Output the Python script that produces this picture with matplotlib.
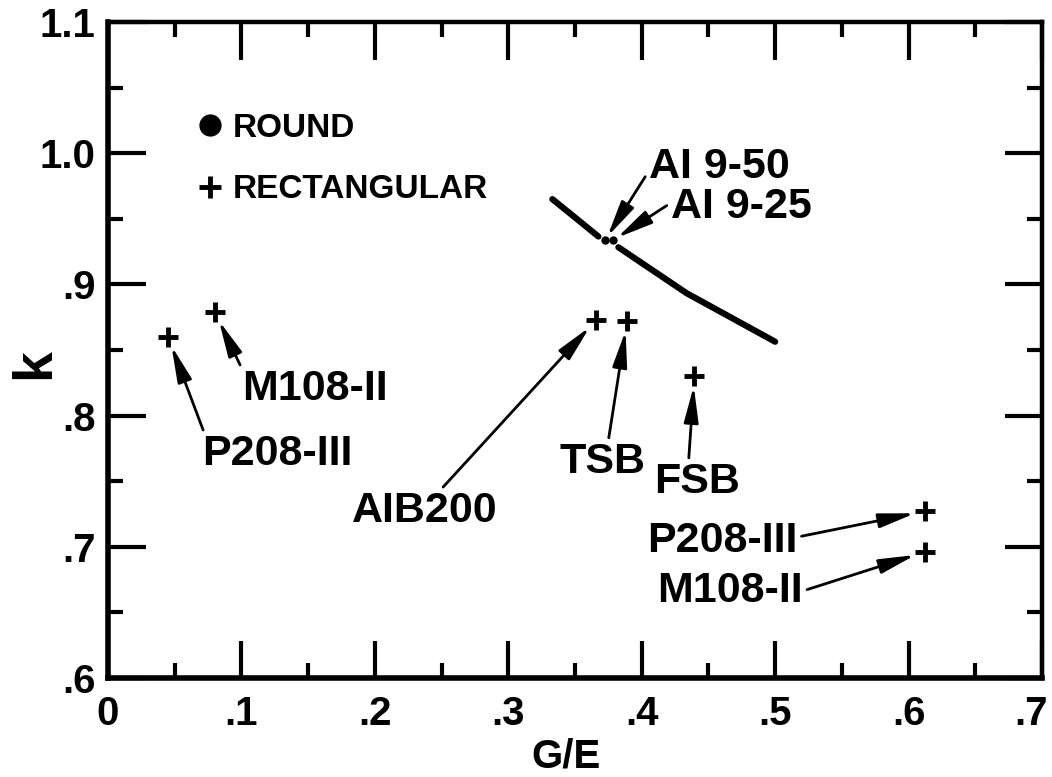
import matplotlib
matplotlib.use("Agg")
import matplotlib.pyplot as plt
import matplotlib.transforms as mtransforms
from matplotlib.lines import Line2D
from matplotlib.ticker import MultipleLocator

# ==========================================================
# DATA
# ==========================================================

# k vs G/E curve for round specimens, drawn in two pieces
curve_upper_x = [0.333, 0.350, 0.3675]
curve_upper_y = [0.965, 0.951, 0.9365]
curve_lower_x = [0.3825, 0.4063, 0.4338, 0.4663, 0.500]
curve_lower_y = [0.9283, 0.912, 0.8932, 0.8751, 0.8563]

# Round specimens sitting in the gap of the curve
round_names = ["AI 9-50", "AI 9-25"]
round_x = [0.3726, 0.3788]
round_y = [0.9338, 0.9338]
round_label_x = [0.458, 0.4745]
round_label_y = [0.981, 0.9506]
round_relpos = [(0.0, 0.4), (0.0, 0.6)]

# Rectangular specimens
rect_names = ["P208-III", "M108-II", "AIB200", "TSB", "FSB",
              "P208-III", "M108-II"]
rect_x = [0.045, 0.080, 0.366, 0.389, 0.4395, 0.612, 0.612]
rect_y = [0.860, 0.879, 0.873, 0.872, 0.830, 0.727, 0.696]
rect_label_x = [0.1265, 0.155, 0.2376, 0.3703, 0.4415, 0.4603, 0.4663]
rect_label_y = [0.7623, 0.8119, 0.719, 0.7563, 0.741, 0.696, 0.658]
rect_relpos = [(0.02, 1.0), (0.0, 1.0), (0.6, 1.0), (0.57, 1.0),
               (0.4, 1.0), (1.0, 0.6), (1.0, 0.5)]

# Axis ticks
x_ticks = [0.0, 0.1, 0.2, 0.3, 0.4, 0.5, 0.6, 0.7]
x_tick_labels = ["0", ".1", ".2", ".3", ".4", ".5", ".6", ".7"]
y_ticks = [0.6, 0.7, 0.8, 0.9, 1.0, 1.1]
y_tick_labels = [".6", ".7", ".8", ".9", "1.0", "1.1"]

# ==========================================================
# STYLE
# ==========================================================

plt.rcParams["font.family"] = ["Liberation Sans", "DejaVu Sans"]
plt.rcParams["font.weight"] = "bold"

fig = plt.figure(figsize=(10.52, 7.77), dpi=100)
ax = fig.add_axes([0.1027, 0.1274, 0.8878, 0.8443])

# ==========================================================
# MARKS
# ==========================================================

ax.plot(curve_upper_x, curve_upper_y, color="black", lw=4.5,
        solid_capstyle="round")
ax.plot(curve_lower_x, curve_lower_y, color="black", lw=4.5,
        solid_capstyle="round")

ax.plot(round_x, round_y, "o", color="black", markersize=5)
ax.plot(rect_x, rect_y, "+", color="black", markersize=15, mew=3.5)

arrow = dict(arrowstyle="-|>,head_length=1.0,head_width=0.2",
             color="black", lw=2, shrinkA=1, shrinkB=7, mutation_scale=22)

for name, x, y, tx, ty, rp in zip(rect_names, rect_x, rect_y,
                                  rect_label_x, rect_label_y, rect_relpos):
    ax.annotate(name, xy=(x, y), xytext=(tx, ty), ha="center",
                va="baseline", fontsize=31, fontweight="bold",
                arrowprops=dict(arrow, relpos=rp))

for name, x, y, tx, ty, rp in zip(round_names, round_x, round_y,
                                  round_label_x, round_label_y, round_relpos):
    ax.annotate(name, xy=(x, y), xytext=(tx, ty), ha="center",
                va="baseline", fontsize=31, fontweight="bold",
                arrowprops=dict(arrow, relpos=rp, shrinkB=3))

# legend
handles = [
    Line2D([], [], marker="o", ls="none", color="black", markersize=15),
    Line2D([], [], marker="+", ls="none", color="black", markersize=16,
           mew=3.5),
]
ax.legend(handles, ["ROUND", "RECTANGULAR"], loc="upper left",
          bbox_to_anchor=(0.096, 0.862), frameon=False, borderpad=0,
          borderaxespad=0, handlelength=0.75, handletextpad=0.3,
          labelspacing=0.92, prop={"size": 24, "weight": "bold"})

# ==========================================================
# AXES
# ==========================================================

ax.set_xlim(0, 0.7)
ax.set_ylim(0.6, 1.1)
ax.set_xticks(x_ticks)
ax.set_xticklabels(x_tick_labels, fontsize=29, fontweight="bold")
ax.set_yticks(y_ticks)
ax.set_yticklabels(y_tick_labels, fontsize=29, fontweight="bold")
ax.xaxis.set_minor_locator(MultipleLocator(0.05))
ax.yaxis.set_minor_locator(MultipleLocator(0.05))

ax.tick_params(which="both", direction="in", top=True, right=True,
               width=3, color="black")
ax.tick_params(which="major", length=27)
ax.tick_params(which="minor", length=11)
ax.tick_params(axis="x", which="major", pad=12)
ax.tick_params(axis="y", which="major", pad=9)

# pull the last x label in a little so it stays on the page
last = ax.get_xticklabels()[-1]
last.set_transform(last.get_transform()
                   + mtransforms.ScaledTranslation(-8 / 72, 0,
                                                   fig.dpi_scale_trans))

for side in ["left", "bottom"]:
    ax.spines[side].set_linewidth(4)
for side in ["top", "right"]:
    ax.spines[side].set_linewidth(3.2)

ax.set_xlabel("G/E", fontsize=29, fontweight="bold")
ax.xaxis.set_label_coords(0.49, -0.09)
ax.set_ylabel("k", fontsize=40, fontweight="bold")
ax.yaxis.set_label_coords(-0.05, 0.48)

fig.savefig("out.png", dpi=100)
